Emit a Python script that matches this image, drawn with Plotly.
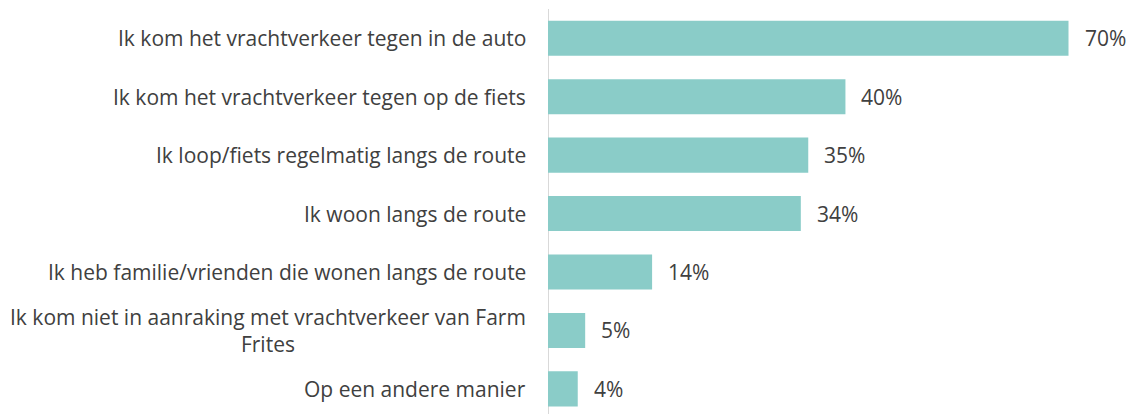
import plotly.graph_objects as go

categories = [
    "Ik kom het vrachtverkeer tegen in de auto",
    "Ik kom het vrachtverkeer tegen op de fiets",
    "Ik loop/fiets regelmatig langs de route",
    "Ik woon langs de route",
    "Ik heb familie/vrienden die wonen langs de route",
    "Ik kom niet in aanraking met vrachtverkeer van Farm<br>Frites",
    "Op een andere manier",
]
values = [70, 40, 35, 34, 14, 5, 4]
value_labels = [f"{v}%" for v in values]

BAR = "#8ACCC8"
TXT = "#404040"
FONT = "Open Sans"
FS = 21

ypos = list(range(len(categories)))

fig = go.Figure()
fig.add_trace(go.Bar(
    x=values, y=ypos, orientation="h",
    marker=dict(color=BAR, line=dict(width=0)),
    width=0.6, hoverinfo="skip",
))

annotations = []
for y, cat, v, lab in zip(ypos, categories, values, value_labels):
    annotations.append(dict(
        x=0, y=y, xref="paper", yref="y", text=cat, showarrow=False,
        xanchor="right", yanchor="middle", align="center", xshift=-20,
        font=dict(family=FONT, size=FS, color=TXT),
    ))
    annotations.append(dict(
        x=v, y=y, xref="x", yref="y", text=lab, showarrow=False,
        xanchor="left", yanchor="middle", xshift=14,
        font=dict(family=FONT, size=FS, color=TXT),
    ))

fig.update_layout(
    width=1134, height=414,
    margin=dict(l=548, r=6, t=9, b=0),
    paper_bgcolor="white", plot_bgcolor="white",
    showlegend=False,
    bargap=0.4,
    annotations=annotations,
    xaxis=dict(range=[0, 78], showgrid=False, zeroline=False,
               showticklabels=False, showline=False, fixedrange=True),
    yaxis=dict(range=[6.43, -0.5], showgrid=False, zeroline=False,
               showticklabels=False, showline=False, fixedrange=True),
    font=dict(family=FONT, color=TXT),
)
fig.add_shape(type="line", xref="x", yref="paper", x0=0, x1=0, y0=0, y1=1,
              line=dict(color="#D9D9D9", width=2), layer="below")

fig.write_html("out.html")
